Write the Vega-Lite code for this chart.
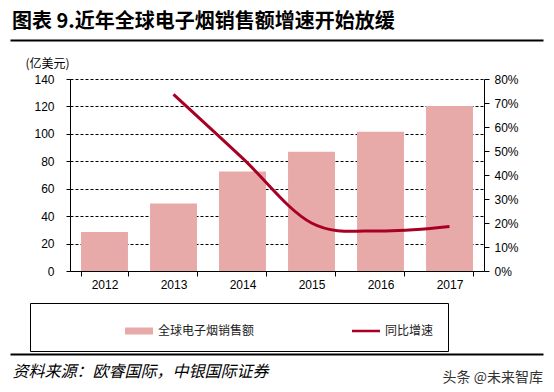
{
  "$schema": "https://vega.github.io/schema/vega-lite/v6.json",
  "width": 414,
  "height": 192,
  "autosize": "none",
  "padding": {"left": 70, "top": 79, "right": 70, "bottom": 121},
  "background": "white",
  "title": {
    "text": "图表 9.近年全球电子烟销售额增速开始放缓",
    "anchor": "start",
    "frame": "group",
    "dx": -58,
    "offset": 8,
    "font": "Noto Sans CJK SC",
    "fontSize": 20,
    "fontWeight": "bold",
    "color": "#000"
  },
  "data": {
    "values": [
      {"year": "2012", "sales": 28.4, "growth": null},
      {"year": "2013", "sales": 49.3, "growth": 0.736},
      {"year": "2014", "sales": 72.5, "growth": 0.47},
      {"year": "2015", "sales": 87.0, "growth": 0.2},
      {"year": "2016", "sales": 101.5, "growth": 0.167},
      {"year": "2017", "sales": 120.3, "growth": 0.185}
    ]
  },
  "layer": [
    {
      "mark": {"type": "bar"},
      "encoding": {
        "x": {
          "field": "year",
          "type": "nominal",
          "scale": {"domain": ["2012", "2013", "2014", "2015", "2016", "2017"], "paddingInner": 0.32, "paddingOuter": 0.16},
          "axis": {
            "orient": "bottom",
            "title": "资料来源：欧睿国际，中银国际证券",
            "titleX": -58,
            "titleY": 100,
            "titleAlign": "left",
            "titleBaseline": "middle",
            "titleFont": "Noto Sans CJK SC",
            "titleFontSize": 16,
            "titleFontStyle": "italic",
            "titleFontWeight": "normal",
            "titleColor": "#000",
            "labelAngle": 0,
            "labelFont": "Liberation Sans",
            "labelFontSize": 12,
            "labelColor": "#000",
            "labelPadding": 3,
            "tickSize": 5,
            "tickColor": "#000",
            "tickBand": "extent",
            "domainColor": "#000",
            "grid": false
          }
        },
        "y": {
          "field": "sales",
          "type": "quantitative",
          "scale": {"domain": [0, 140], "nice": false},
          "axis": {
            "orient": "left",
            "values": [0, 20, 40, 60, 80, 100, 120, 140],
            "grid": true,
            "gridDash": [3, 2],
            "gridColor": "#000",
            "gridWidth": 1,
            "domainColor": "#000",
            "tickColor": "#000",
            "tickSize": 4,
            "labelPadding": 12,
            "labelFont": "Liberation Sans",
            "labelFontSize": 12,
            "labelColor": "#000",
            "title": "(亿美元)",
            "titleAngle": 0,
            "titleX": -45,
            "titleY": -16,
            "titleAlign": "left",
            "titleBaseline": "middle",
            "titleFont": "Noto Sans CJK SC",
            "titleFontSize": 12,
            "titleFontWeight": "normal",
            "titleColor": "#000"
          }
        },
        "color": {
          "datum": "全球电子烟销售额",
          "scale": {"domain": ["全球电子烟销售额", "同比增速"], "range": ["#E8A9A9", "#A80025"]},
          "legend": {
            "orient": "none",
            "legendX": -40,
            "legendY": 224,
            "direction": "horizontal",
            "columns": 2,
            "title": "\u3000",
            "titleOrient": "left",
            "titlePadding": 81,
            "titleFontSize": 12,
            "titleFont": "Noto Sans CJK SC",
            "padding": 14,
            "strokeColor": "#000",
            "fillColor": "white",
            "columnPadding": 97,
            "symbolSize": 784,
            "symbolType": "M-1,-0.25H1V0.25H-1Z",
            "symbolStrokeWidth": 0,
            "symbolOpacity": 1,
            "labelFont": "Noto Sans CJK SC",
            "labelFontSize": 12,
            "labelColor": "#222",
            "labelOffset": 5,
            "labelExpr": "datum.label == '同比增速' ? datum.label + '\u3000\u3000\u3000\u3000\u3000' : datum.label",
            "encode": {
              "symbols": {
                "update": {
                  "shape": [
                    {"test": "datum.value === '同比增速'", "value": "M-1,-0.09H1V0.09H-1Z"},
                    {"value": "M-1,-0.25H1V0.25H-1Z"}
                  ],
                  "fill": [
                    {"test": "datum.value === '同比增速'", "value": "#A80025"},
                    {"value": "#E8A9A9"}
                  ],
                  "strokeWidth": {"value": 0}
                }
              }
            }
          }
        }
      }
    },
    {
      "mark": {"type": "line", "interpolate": "cardinal", "strokeWidth": 3},
      "encoding": {
        "x": {
          "field": "year",
          "type": "ordinal",
          "scale": {"domain": ["2012", "2013", "2014", "2015", "2016", "2017"]},
          "axis": null
        },
        "y": {
          "field": "growth",
          "type": "quantitative",
          "scale": {"domain": [0, 0.8], "nice": false},
          "axis": {
            "orient": "right",
            "values": [0, 0.1, 0.2, 0.3, 0.4, 0.5, 0.6, 0.7, 0.8],
            "format": ".0%",
            "grid": false,
            "domainColor": "#000",
            "tickColor": "#000",
            "tickSize": 5,
            "labelPadding": 5,
            "labelFont": "Liberation Sans",
            "labelFontSize": 12,
            "labelColor": "#000",
            "title": "头条 @未来智库",
            "titleAngle": 0,
            "titleX": -42,
            "titleY": 298,
            "titleAlign": "left",
            "titleBaseline": "middle",
            "titleFont": "Noto Sans CJK SC",
            "titleFontSize": 14,
            "titleFontWeight": "normal",
            "titleColor": "#333"
          }
        },
        "color": {"datum": "同比增速"}
      }
    },
    {
      "mark": {"type": "point", "opacity": 0},
      "encoding": {
        "x": {
          "field": "year",
          "type": "ordinal",
          "scale": {"range": [-60, 473]},
          "axis": {"orient": "top", "offset": 39, "labels": false, "ticks": false, "title": null, "grid": false, "domainColor": "#000", "domainWidth": 2}
        }
      }
    },
    {
      "mark": {"type": "point", "opacity": 0},
      "encoding": {
        "x": {
          "field": "year",
          "type": "ordinal",
          "scale": {"range": [-60, 473]},
          "axis": {"orient": "bottom", "offset": 83, "labels": false, "ticks": false, "title": null, "grid": false, "domainColor": "#000", "domainWidth": 2}
        }
      }
    }
  ],
  "resolve": {"scale": {"x": "independent", "y": "independent"}, "axis": {"x": "independent", "y": "independent"}},
  "config": {"view": {"stroke": null}}
}
